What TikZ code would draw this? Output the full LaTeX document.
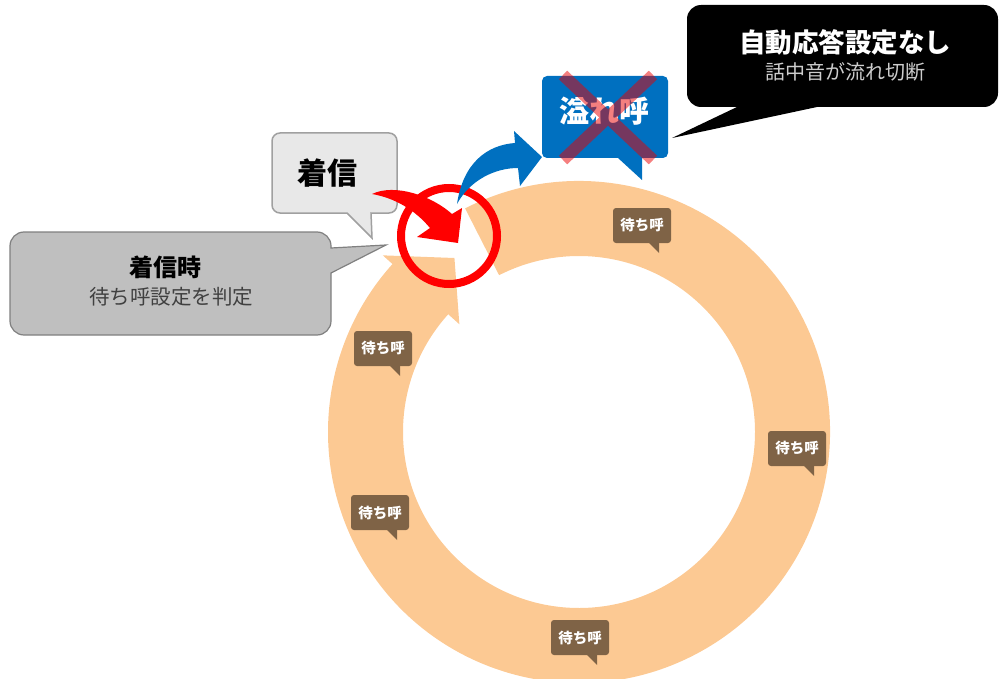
\documentclass[tikz,border=0pt]{standalone}
\usepackage{fontspec}
\setmainfont{Noto Sans CJK JP}
\usetikzlibrary{calc}
\definecolor{ringc}{RGB}{252,201,147}
\definecolor{brownc}{RGB}{127,99,70}
\definecolor{bluec}{RGB}{0,112,192}
\definecolor{redc}{RGB}{255,0,0}
\definecolor{xc}{RGB}{235,0,0}
\definecolor{lgray}{RGB}{232,232,232}
\definecolor{lgrayb}{RGB}{160,160,160}
\definecolor{mgray}{RGB}{191,191,191}
\definecolor{mgrayb}{RGB}{128,128,128}
\definecolor{subgray}{RGB}{205,205,205}
\definecolor{darktext}{RGB}{64,64,64}
\newcommand\waitbubble[3]{%
  \fill[brownc, rounded corners=3] (#2,#3) rectangle ++(58,35);
  \fill[brownc] ({#2+35},{#3+34}) -- ({#2+46},{#3+45}) -- ({#2+46},{#3+34}) -- cycle;
  \node[wait] (#1) at ({#2+29},{#3+17.5}) {待ち呼};
}
\begin{document}
\begin{tikzpicture}[x=1pt,y=-1pt,
  lbl/.style={inner sep=0pt, anchor=center},
  wait/.style={lbl, text=white, font=\fontsize{14.5}{16}\selectfont\bfseries},
  arrowfill/.style={fill=#1, draw=none},
]
\useasboundingbox (0,0) rectangle (1000,679);
\clip (0,0) rectangle (1000,679);
\coordinate (C) at (579,432);
% ring arrow
\fill[ringc] ($(C)+(-117:251)$) arc[start angle=-117, end angle=222, radius=251]
  -- ($(C)+(222:264)$) -- ($(C)+(234.4:214)$) -- ($(C)+(222:161)$) -- ($(C)+(222:176)$)
  arc[start angle=222, end angle=-117, radius=176] -- cycle;
% waiting call bubbles
\waitbubble{w1}{613}{208}
\waitbubble{w2}{354}{331}
\waitbubble{w3}{768}{431}
\waitbubble{w4}{351}{495}
\waitbubble{w5}{551}{620}
% callout: chakushin-ji
\filldraw[fill=mgray, draw=mgrayb, line width=1.2]
  (24,232) -- (317,232) arc[start angle=-90, end angle=0, radius=14]
  -- (331,248) -- (386,245) -- (331,273) -- (331,321)
  arc[start angle=0, end angle=90, radius=14] -- (24,335)
  arc[start angle=90, end angle=180, radius=14] -- (10,246)
  arc[start angle=180, end angle=270, radius=14] -- cycle;
\node[lbl, font=\fontsize{24}{28}\selectfont\bfseries] (t1) at (165,267) {着信時};
\node[lbl, text=darktext, font=\fontsize{20.5}{24}\selectfont] (t1s) at (171,297) {待ち呼設定を判定};
% callout: chakushin
\filldraw[fill=lgray, draw=lgrayb, line width=1.5]
  (280,133) -- (389,133) arc[start angle=-90, end angle=0, radius=8]
  -- (397,205) arc[start angle=0, end angle=90, radius=8]
  -- (371,213) -- (372,238) -- (347,213) -- (280,213)
  arc[start angle=90, end angle=180, radius=8] -- (272,141)
  arc[start angle=180, end angle=270, radius=8] -- cycle;
\node[lbl, font=\fontsize{30}{36}\selectfont\bfseries] (t2) at (327,173) {着信};
% red circle
\node[circle, draw=redc, line width=8pt, minimum size=96pt, inner sep=0pt] (rc) at (449,236) {};
% red curved arrow
\fill[redc] (372,194) .. controls (395,183) and (432,196) .. (452,214)
  -- (462,208) -- (458,243) -- (417,237) -- (430,228)
  .. controls (415,210) and (395,198) .. (372,194) -- cycle;
% blue curved arrow
\fill[bluec] (457,204) .. controls (463,163) and (487,145) .. (515,143)
  -- (514,131) -- (542,157) -- (520,186) -- (518,168)
  .. controls (495,168) and (470,180) .. (457,204) -- cycle;
% overflow box
\fill[bluec] (547,76) -- (663,76) arc[start angle=-90, end angle=0, radius=5]
  -- (668,153) arc[start angle=0, end angle=90, radius=5]
  -- (642,158) -- (642,180) -- (618,158) -- (547,158)
  arc[start angle=90, end angle=180, radius=5] -- (542,81)
  arc[start angle=180, end angle=270, radius=5] -- cycle;
\node[lbl, text=white, font=\fontsize{30}{36}\selectfont\bfseries] (t3) at (604,111) {溢れ呼};
\draw[xc, opacity=0.5, line width=12pt] (563,75) -- (653,160) (653,75) -- (563,160);
% black callout
\fill[black] (701,5) -- (984,5) arc[start angle=-90, end angle=0, radius=14]
  -- (998,93) arc[start angle=0, end angle=90, radius=14]
  -- (817,107) -- (672,138) -- (737,107) -- (701,107)
  arc[start angle=90, end angle=180, radius=14] -- (687,19)
  arc[start angle=180, end angle=270, radius=14] -- cycle;
\node[lbl, text=white, font=\fontsize{26.5}{30}\selectfont\bfseries] (t4) at (845,42) {自動応答設定なし};
\node[lbl, text=subgray, font=\fontsize{20}{24}\selectfont] (t4s) at (845,72) {話中音が流れ切断};
\end{tikzpicture}
\end{document}
